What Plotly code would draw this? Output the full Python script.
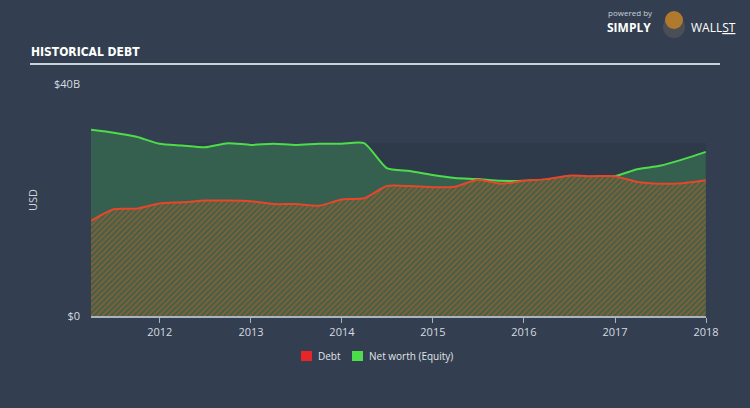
import plotly.graph_objects as go

dates = ["2011-03-31", "2011-06-30", "2011-09-30", "2011-12-31",
         "2012-03-31", "2012-06-30", "2012-09-30", "2012-12-31",
         "2013-03-31", "2013-06-30", "2013-09-30", "2013-12-31",
         "2014-03-31", "2014-06-30", "2014-09-30", "2014-12-31",
         "2015-03-31", "2015-06-30", "2015-09-30", "2015-12-31",
         "2016-03-31", "2016-06-30", "2016-09-30", "2016-12-31",
         "2017-03-31", "2017-06-30", "2017-09-30", "2017-12-31"]
debt = [16.4, 18.4, 18.5, 19.4, 19.6, 19.9, 19.9, 19.8,
        19.3, 19.3, 19.0, 20.1, 20.3, 22.4, 22.4, 22.2,
        22.3, 23.5, 22.8, 23.3, 23.6, 24.2, 24.1, 24.1,
        23.1, 22.8, 22.9, 23.4]
equity = [32.1, 31.6, 30.9, 29.7, 29.4, 29.1, 29.8, 29.5,
          29.7, 29.5, 29.7, 29.7, 29.8, 25.5, 25.0, 24.3,
          23.8, 23.6, 23.3, 23.3, 23.5, 23.7, 24.0, 24.1,
          25.3, 25.9, 27.0, 28.3]
year_ticks = ["2012-01-01", "2013-01-01", "2014-01-01", "2015-01-01",
              "2016-01-01", "2017-01-01", "2018-01-01"]
year_labels = ["2012", "2013", "2014", "2015", "2016", "2017", "2018"]

BG = "#333f50"
PW, PH = 615, 232


def px(x):
    return (x - 91) / PW


def py(y):
    return (316 - y) / PH


fig = go.Figure()

fig.add_trace(go.Scatter(
    x=dates, y=equity, mode="lines", name="Net worth (Equity)",
    line=dict(color="#4ddd4a", width=2, shape="spline", smoothing=0.6),
    fill="tozeroy", fillcolor="#35604f", showlegend=False))
fig.add_trace(go.Scatter(
    x=dates, y=debt, mode="lines", name="Debt",
    line=dict(color="#e8462b", width=2, shape="spline", smoothing=0.6),
    fill="tozeroy", fillcolor="#b85a2e",
    fillpattern=dict(shape="/", bgcolor="#3c6248", fgcolor="#cc5a2a",
                     size=4, solidity=0.5),
    showlegend=False))

fig.update_layout(
    width=750, height=408, paper_bgcolor=BG, plot_bgcolor=BG,
    margin=dict(l=91, r=44, t=84, b=92),
    font=dict(family="Open Sans, DejaVu Sans", color="#cfd5dc", size=11),
    showlegend=False,
    xaxis=dict(type="date", range=["2011-03-31", "2018-01-01"],
               tickvals=year_ticks, ticktext=year_labels,
               showgrid=False, zeroline=False, showline=True,
               linecolor="#aab4bf", linewidth=1.5,
               ticks="outside", ticklen=5, tickcolor="#aab4bf",
               tickfont=dict(size=11, color="#d5dbe1")),
    yaxis=dict(range=[0, 40], tickvals=[0, 40], ticktext=["$0", "$40B"],
               showgrid=False, zeroline=False, showline=False,
               ticks="", ticklabelstandoff=10,
               tickfont=dict(size=11, color="#d5dbe1"),
               title=dict(text="USD", font=dict(size=11, color="#cfd5dc"),
                          standoff=14)),
    shapes=[
        dict(type="rect", xref="paper", yref="y", x0=0, x1=1, y0=0, y1=29.8,
             fillcolor="#2e3a4a", line=dict(width=0), layer="below"),
        dict(type="line", xref="paper", yref="paper",
             x0=px(30), x1=px(720), y0=py(64), y1=py(64),
             line=dict(color="#c9d1da", width=2)),
        dict(type="rect", xref="paper", yref="paper",
             x0=px(301), x1=px(312), y0=py(361), y1=py(351),
             fillcolor="#e8262a", line=dict(width=0)),
        dict(type="rect", xref="paper", yref="paper",
             x0=px(352), x1=px(363), y0=py(361), y1=py(351),
             fillcolor="#4ddd4a", line=dict(width=0)),
        # logo mascot stand-in
        dict(type="circle", xref="paper", yref="paper",
             x0=px(663), x1=px(685), y0=py(38), y1=py(16),
             fillcolor="#4a4f55", line=dict(width=0)),
        dict(type="circle", xref="paper", yref="paper",
             x0=px(665), x1=px(683), y0=py(29), y1=py(11),
             fillcolor="#b07a2e", line=dict(width=0)),
    ],
    annotations=[
        dict(text="<b>HISTORICAL DEBT</b>", xref="paper", yref="paper",
             x=px(29), y=py(52), xanchor="left", yanchor="middle",
             showarrow=False,
             font=dict(family="DejaVu Sans Condensed, Liberation Sans Narrow, Roboto",
                       size=12, color="#ffffff")),
        dict(text="Debt", xref="paper", yref="paper",
             x=px(316), y=py(356), xanchor="left", yanchor="middle",
             showarrow=False, font=dict(size=10, color="#e0e4e8")),
        dict(text="Net worth (Equity)", xref="paper", yref="paper",
             x=px(367), y=py(356), xanchor="left", yanchor="middle",
             showarrow=False, font=dict(size=10, color="#e0e4e8")),
        dict(text="powered by", xref="paper", yref="paper",
             x=px(606), y=py(13), xanchor="left", yanchor="middle",
             showarrow=False, font=dict(size=8, color="#c9d1da")),
        dict(text="<b>SIMPLY</b>", xref="paper", yref="paper",
             x=px(605), y=py(28), xanchor="left", yanchor="middle",
             showarrow=False, font=dict(size=12, color="#ffffff")),
        dict(text="WALL<u>ST</u>", xref="paper", yref="paper",
             x=px(689), y=py(28), xanchor="left", yanchor="middle",
             showarrow=False, font=dict(size=12, color="#ffffff")),
    ],
)

fig.write_html("out.html")
